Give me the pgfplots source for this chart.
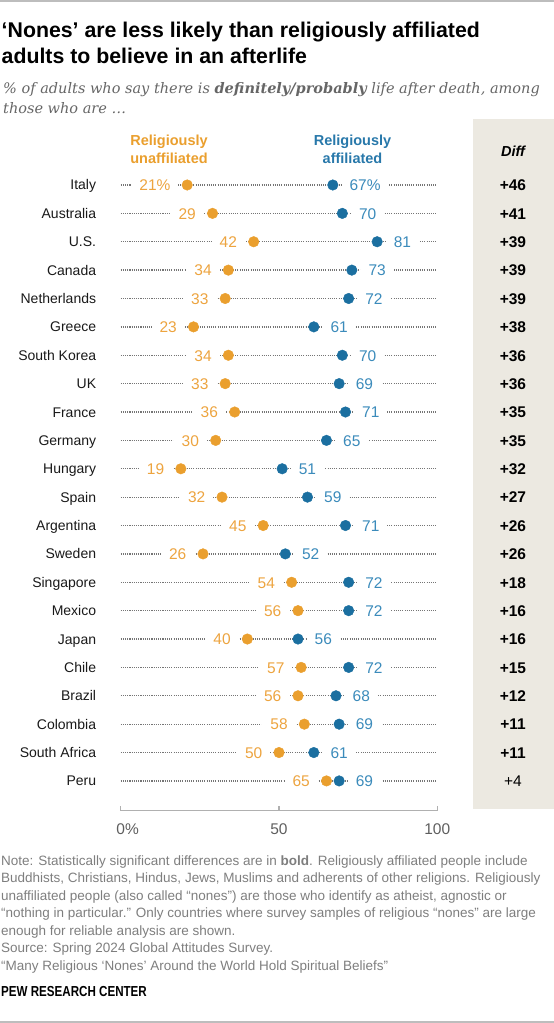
\documentclass[border=0pt]{standalone}
\usepackage{pgfplots}
\pgfplotsset{compat=1.18}
\usepackage{pgfplotstable}
\usepackage{fontspec}
\setmainfont{Liberation Sans}
\newfontfamily\subfont{DejaVu Serif}

\definecolor{orangedot}{HTML}{EA9F2E}
\definecolor{orangetext}{HTML}{EDA43F}
\definecolor{bluedot}{HTML}{1B6FA0}
\definecolor{bluetext}{HTML}{3B8BBB}
\definecolor{bluehead}{HTML}{2878AA}
\definecolor{diffbox}{HTML}{ECE9E1}
\definecolor{dotgray}{HTML}{757575}
\definecolor{axisgray}{HTML}{B0B0B0}
\definecolor{tickgray}{HTML}{5E5E5E}
\definecolor{notegray}{HTML}{7E7E7E}
\definecolor{subgray}{HTML}{666666}
\definecolor{rulegray}{HTML}{BDBDBD}

\pgfplotstableread[row sep=\\]{
row name lo hi lolab hilab diff\\
0 Italy 21 67 21\% 67\% +46\\
1 Australia 29 70 29 70 +41\\
2 U.S. 42 81 42 81 +39\\
3 Canada 34 73 34 73 +39\\
4 Netherlands 33 72 33 72 +39\\
5 Greece 23 61 23 61 +38\\
6 {South Korea} 34 70 34 70 +36\\
7 UK 33 69 33 69 +36\\
8 France 36 71 36 71 +35\\
9 Germany 30 65 30 65 +35\\
10 Hungary 19 51 19 51 +32\\
11 Spain 32 59 32 59 +27\\
12 Argentina 45 71 45 71 +26\\
13 Sweden 26 52 26 52 +26\\
14 Singapore 54 72 54 72 +18\\
15 Mexico 56 72 56 72 +16\\
16 Japan 40 56 40 56 +16\\
17 Chile 57 72 57 72 +15\\
18 Brazil 56 68 56 68 +12\\
19 Colombia 58 69 58 69 +11\\
20 {South Africa} 50 61 50 61 +11\\
21 Peru 65 69 65 69 \mdseries+4\\
}\datatable

\newcommand\valfont{\fontsize{15.5}{18}\selectfont}
\newcommand\notefont{\fontsize{13.5}{16}\selectfont}

\begin{document}
\begin{tikzpicture}[x=1pt,y=1pt]
\path[use as bounding box] (0,0) rectangle (554,-1023);
% rules
\draw[rulegray, line width=2pt] (0,-1) -- (554,-1);
\draw[rulegray, line width=1.5pt] (0,-1022) -- (554,-1022);
% diff box
\fill[diffbox] (472.7,-119) rectangle (554,-809.3);
% title
\node[anchor=base west, inner sep=0pt, font=\fontsize{21.3}{26}\selectfont\bfseries] at (1.5,-37.3) {‘Nones’ are less likely than religiously affiliated};
\node[anchor=base west, inner sep=0pt, font=\fontsize{21.3}{26}\selectfont\bfseries] at (1.5,-63.3) {adults to believe in an afterlife};
% subtitle
\node[anchor=base west, inner sep=0pt, text=subgray, font=\subfont\itshape\fontsize{14.5}{20}\selectfont] at (3,-93) {\% of adults who say there is \textbf{definitely/probably} life after death, among};
\node[anchor=base west, inner sep=0pt, text=subgray, font=\subfont\itshape\fontsize{14.5}{20}\selectfont] at (3,-113.3) {those who are \dots};
% column heads
\node[anchor=base, inner sep=0pt, text=orangedot, font=\fontsize{14.5}{17}\selectfont\bfseries] at (169,-145.7) {Religiously};
\node[anchor=base, inner sep=0pt, text=orangedot, font=\fontsize{14.5}{17}\selectfont\bfseries] at (169,-163) {unaffiliated};
\node[anchor=base, inner sep=0pt, text=bluehead, font=\fontsize{14.5}{17}\selectfont\bfseries] at (352.5,-145.7) {Religiously};
\node[anchor=base, inner sep=0pt, text=bluehead, font=\fontsize{14.5}{17}\selectfont\bfseries] at (352.5,-163) {affiliated};
\node[anchor=base, inner sep=0pt, font=\fontsize{14.5}{17}\selectfont\bfseries\itshape] at (513,-156) {Diff};

\begin{axis}[
  at={(120.7pt,-810.7pt)}, anchor=south west,
  scale only axis, width=316.6pt, height=654.1pt,
  xmin=0, xmax=100, ymin=-1, ymax=22.05, y dir=reverse,
  clip=false,
  axis x line*=bottom, axis y line*=left,
  y axis line style={draw=none},
  x axis line style={draw=axisgray, line width=1.3pt, -},
  xtick={0,50,100}, xticklabels={0\rlap{\%},50,100},
  tick align=inside, major tick length=5pt,
  xtick style={draw=axisgray, line width=1.3pt},
  ytick={0,...,21}, yticklabels from table={\datatable}{name},
  ytick style={draw=none},
  xticklabel style={anchor=base, yshift=-23.3pt, text=tickgray, font=\fontsize{15.5}{18}\selectfont},
  yticklabel style={anchor=base east, inner sep=0pt, xshift=-24.4pt, yshift=-5pt, text=black!90, font=\fontsize{14}{17}\selectfont},
]
\pgfplotsinvokeforeach{0,...,21}{
  \addplot[dotgray, line width=1.25pt, dash pattern=on 1.1pt off 1.1pt, forget plot] coordinates {(0,#1) (100,#1)};
}
\addplot[only marks, mark=*, mark size=5.3pt, mark options={fill=orangedot, draw=orangedot},
  nodes near coords, point meta=explicit symbolic,
  every node near coord/.append style={anchor=base east, xshift=-8.5pt, yshift=-5.8pt, fill=white, inner xsep=8pt, inner ysep=1pt, text=orangetext, font=\valfont}]
  table[x=lo, y=row, meta=lolab] {\datatable};
\addplot[only marks, mark=*, mark size=5.3pt, mark options={fill=bluedot, draw=bluedot},
  nodes near coords, point meta=explicit symbolic,
  every node near coord/.append style={anchor=base west, xshift=8.5pt, yshift=-5.8pt, fill=white, inner xsep=8pt, inner ysep=1pt, text=bluetext, font=\valfont}]
  table[x=hi, y=row, meta=hilab] {\datatable};
\addplot[draw=none, mark=none,
  nodes near coords, point meta=explicit symbolic,
  every node near coord/.append style={anchor=base, yshift=-5.8pt, text=black, font=\valfont\bfseries}]
  table[x expr=123.9, y=row, meta=diff] {\datatable};
\end{axis}

% notes
\node[anchor=base west, inner sep=0pt, text=notegray, font=\notefont] at (1,-865) {Note: Statistically significant differences are in \textbf{bold}. Religiously affiliated people include};
\node[anchor=base west, inner sep=0pt, text=notegray, font=\notefont] at (1,-882.5) {Buddhists, Christians, Hindus, Jews, Muslims and adherents of other religions. Religiously};
\node[anchor=base west, inner sep=0pt, text=notegray, font=\notefont] at (1,-900) {unaffiliated people (also called “nones”) are those who identify as atheist, agnostic or};
\node[anchor=base west, inner sep=0pt, text=notegray, font=\notefont] at (1,-917.5) {“nothing in particular.” Only countries where survey samples of religious “nones” are large};
\node[anchor=base west, inner sep=0pt, text=notegray, font=\notefont] at (1,-935) {enough for reliable analysis are shown.};
\node[anchor=base west, inner sep=0pt, text=notegray, font=\notefont] at (1,-952.5) {Source: Spring 2024 Global Attitudes Survey.};
\node[anchor=base west, inner sep=0pt, text=notegray, font=\notefont] at (1,-970) {“Many Religious ‘Nones’ Around the World Hold Spiritual Beliefs”};
\node[anchor=base west, inner sep=0pt, text=black, font=\fontsize{14.5}{16}\selectfont\bfseries] at (1,-996.7) {\scalebox{0.8}[1]{PEW RESEARCH CENTER}};
\end{tikzpicture}
\end{document}
